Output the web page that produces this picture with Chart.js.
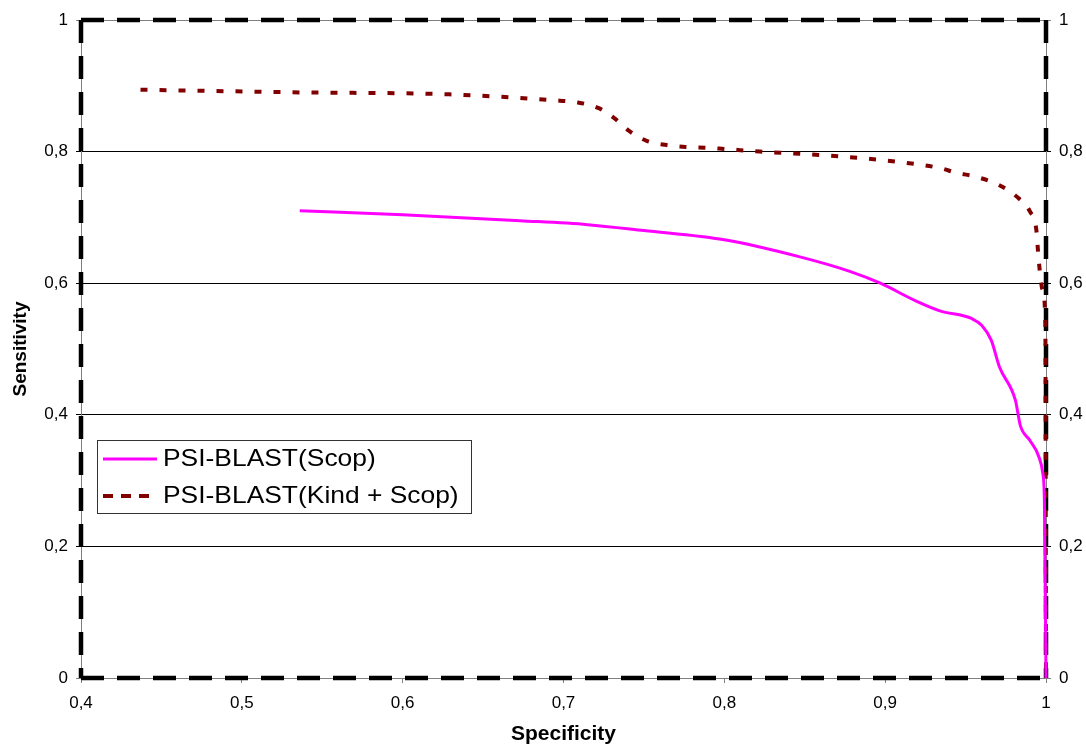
<!DOCTYPE html>
<html>
<head>
<meta charset="utf-8">
<title>PSI-BLAST ROC</title>
<script src="https://cdn.jsdelivr.net/npm/chart.js@4.4.0/dist/chart.umd.min.js"></script>
<style>
    html, body { margin: 0; padding: 0; background: #fff; }
    #wrap { width: 1086px; height: 749px; }
</style>
</head>
<body>
<div id="wrap"><canvas id="rocChart"></canvas></div>
<script>
// tick labels use a decimal comma
const xTickLabels = ['0,4', '0,5', '0,6', '0,7', '0,8', '0,9', '1'];
const yTickLabels = ['0', '0,2', '0,4', '0,6', '0,8', '1'];
const seriesNames = ['PSI-BLAST(Scop)', 'PSI-BLAST(Kind + Scop)'];

// PSI-BLAST(Scop)
const scopSpecificity = [0.536, 0.600, 0.673, 0.715, 0.750, 0.800, 0.847, 0.878, 0.897, 0.920, 0.934, 0.954, 0.960, 0.966, 0.971, 0.981, 0.984, 0.990, 0.9956, 0.998, 0.999, 1.0];
const scopSensitivity = [0.710, 0.704, 0.695, 0.689, 0.680, 0.666, 0.640, 0.618, 0.600, 0.572, 0.558, 0.546, 0.536, 0.513, 0.473, 0.422, 0.384, 0.361, 0.336, 0.311, 0.270, 0.0];

// PSI-BLAST(Kind + Scop)
const kindSpecificity = [0.437, 0.536, 0.629, 0.694, 0.708, 0.722, 0.732, 0.741, 0.752, 0.764, 0.776, 0.788, 0.800, 0.822, 0.871, 0.909, 0.934, 0.944, 0.956, 0.971, 0.983, 0.990, 0.994, 0.995, 0.996, 0.998, 0.9996, 1.0];
const kindSensitivity = [0.894, 0.890, 0.887, 0.878, 0.875, 0.866, 0.850, 0.831, 0.816, 0.810, 0.807, 0.806, 0.804, 0.800, 0.793, 0.784, 0.775, 0.768, 0.762, 0.749, 0.729, 0.709, 0.681, 0.650, 0.622, 0.589, 0.539, 0.0];

const FONT = '"Liberation Sans", Arial, sans-serif';

function toPoints(xs, ys) {
    return xs.map((x, i) => ({ x: x, y: ys[i] }));
}

function gridColor(c) {
    if (c.tick && (c.tick.value === 0 || c.tick.value === 1)) return '#808080';
    return '#000000';
}

// thick dashed frame around the plot area, under the curves
const frameBorder = {
    id: 'frameBorder',
    beforeDatasetsDraw(chart) {
        const { ctx, chartArea: a } = chart;
        const sides = [
            [a.left, a.top, a.right, a.top],
            [a.left, a.top, a.left, a.bottom],
            [a.left, a.bottom, a.right, a.bottom],
            [a.right, a.top, a.right, a.bottom]
        ];
        ctx.save();
        ctx.strokeStyle = '#000';
        ctx.lineWidth = 4.5;
        ctx.setLineDash([23, 13]);
        sides.forEach(s => {
            ctx.beginPath();
            ctx.moveTo(s[0], s[1]);
            ctx.lineTo(s[2], s[3]);
            ctx.stroke();
        });
        ctx.restore();
    }
};

// boxed legend sitting inside the plot
const insetLegend = {
    id: 'insetLegend',
    afterDraw(chart, args, opts) {
        const { ctx, chartArea: a } = chart;
        const left = a.left + 16, top = a.top + 420, w = 374, h = 73;
        ctx.save();
        ctx.fillStyle = '#fff';
        ctx.fillRect(left, top, w, h);
        ctx.strokeStyle = '#333';
        ctx.lineWidth = 1;
        ctx.strokeRect(left + 0.5, top + 0.5, w, h);
        chart.data.datasets.forEach((ds, i) => {
            const y = top + 19 + i * 37;
            ctx.strokeStyle = ds.borderColor;
            ctx.lineWidth = opts.widths[i];
            ctx.setLineDash(opts.dashes[i]);
            ctx.beginPath();
            ctx.moveTo(left + 6, y);
            ctx.lineTo(left + 60, y);
            ctx.stroke();

            ctx.save();
            ctx.translate(left + 66, y);
            ctx.scale(1.1, 1);
            ctx.fillStyle = '#000';
            ctx.font = '24px ' + FONT;
            ctx.textBaseline = 'middle';
            ctx.fillText(ds.label, 0, 0);
            ctx.restore();
        });
        ctx.restore();
    }
};

const ctx = document.getElementById('rocChart').getContext('2d');

new Chart(ctx, {
    type: 'line',
    data: {
        datasets: [
            {
                label: seriesNames[0],
                data: toPoints(scopSpecificity, scopSensitivity),
                borderColor: '#ff00ff',
                borderWidth: 3,
                pointRadius: 0,
                cubicInterpolationMode: 'monotone',
                fill: false,
                clip: false
            },
            {
                label: seriesNames[1],
                data: toPoints(kindSpecificity, kindSensitivity),
                borderColor: '#800000',
                borderWidth: 4,
                borderDash: [7, 12],
                pointRadius: 0,
                cubicInterpolationMode: 'monotone',
                fill: false,
                clip: false
            }
        ]
    },
    options: {
        responsive: true,
        maintainAspectRatio: false,
        animation: false,
        devicePixelRatio: 1,
        layout: {
            padding: { top: 20, left: 0, right: 0, bottom: 0 }
        },
        plugins: {
            legend: { display: false },
            tooltip: { enabled: false },
            insetLegend: {
                widths: [3, 4],
                dashes: [[], [10, 8]]
            }
        },
        scales: {
            x: {
                type: 'linear',
                position: 'bottom',
                min: 0.4,
                max: 1,
                afterFit: s => { s.height = 71; },
                ticks: {
                    stepSize: 0.1,
                    autoSkip: false,
                    maxRotation: 0,
                    padding: 10,
                    color: '#000',
                    font: { family: FONT, size: 17 },
                    callback: (v, i) => xTickLabels[i]
                },
                grid: {
                    drawOnChartArea: false,
                    tickLength: 5,
                    color: '#808080'
                },
                border: { color: '#808080', width: 1 },
                title: {
                    display: true,
                    text: 'Specificity',
                    color: '#000',
                    font: { family: FONT, size: 21, weight: 'bold' },
                    padding: { top: 0, bottom: 2 }
                }
            },
            y: {
                type: 'linear',
                position: 'left',
                min: 0,
                max: 1,
                afterFit: s => { s.width = 81; },
                ticks: {
                    stepSize: 0.2,
                    padding: 8,
                    color: '#000',
                    font: { family: FONT, size: 17 },
                    callback: (v, i) => yTickLabels[i]
                },
                grid: {
                    color: gridColor,
                    tickLength: 5
                },
                border: { color: '#808080', width: 1 },
                title: {
                    display: true,
                    text: 'Sensitivity',
                    color: '#000',
                    font: { family: FONT, size: 19, weight: 'bold' },
                    padding: { top: 9, bottom: 0 }
                }
            },
            y2: {
                type: 'linear',
                position: 'right',
                min: 0,
                max: 1,
                afterFit: s => { s.width = 40; },
                ticks: {
                    stepSize: 0.2,
                    padding: 8,
                    color: '#000',
                    font: { family: FONT, size: 17 },
                    callback: (v, i) => yTickLabels[i]
                },
                grid: {
                    drawOnChartArea: false,
                    color: gridColor,
                    tickLength: 5
                },
                border: { color: '#808080', width: 1 }
            }
        }
    },
    plugins: [frameBorder, insetLegend]
});
</script>
</body>
</html>
